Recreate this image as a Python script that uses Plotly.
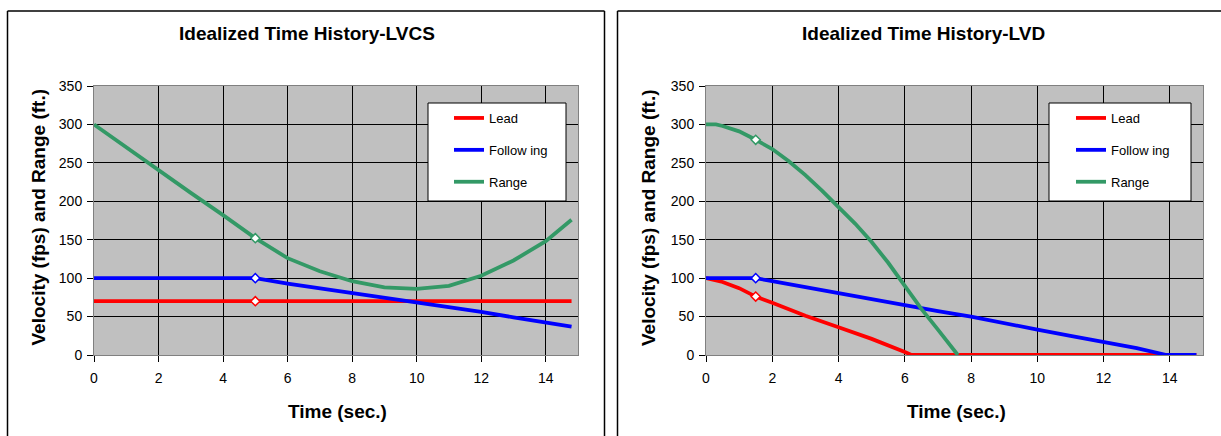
import plotly.graph_objects as go

W, H = 1221, 436

# ---------------- data ----------------
# Left chart: Idealized Time History-LVCS
t_lead_L = [0, 14.8]
lead_L = [70, 70]
t_follow_L = [0, 5, 6, 7, 8, 9, 10, 11, 12, 13, 14, 14.8]
follow_L = [100, 100, 93, 87, 81, 74, 68, 62, 56, 49, 43, 37]
t_range_L = [0, 1, 2, 3, 4, 5, 6, 7, 8, 9, 10, 11, 12, 13, 14, 14.8]
range_L = [300, 270, 241, 211, 182, 152, 126, 109, 96, 88, 86, 90, 103, 123, 148, 176]
t_mark_L = 5
mark_L = [70, 100, 152]

# Right chart: Idealized Time History-LVD
t_lead_R = [0, 0.5, 1, 1.5, 2, 3, 4, 5, 6, 6.2, 14.8]
lead_R = [100, 95, 87, 76, 68, 51, 36, 21, 4, 0, 0]
t_follow_R = [0, 1.5, 2, 3, 4, 5, 6, 7, 8, 9, 10, 11, 12, 13, 13.9, 14.8]
follow_R = [100, 100, 96, 88, 80, 72, 64, 57, 50, 41, 33, 25, 17, 9, 0, 0]
t_range_R = [0, 0.3, 0.5, 1, 1.5, 2, 2.5, 3, 3.5, 4, 4.5, 5, 5.5, 6, 6.5, 7, 7.5, 7.6]
range_R = [300, 300, 298, 291, 280, 268, 252, 234, 214, 193, 171, 147, 120, 90, 60, 33, 7, 0]
t_mark_R = 1.5
mark_R = [76, 100, 280]

series_names = ["Lead", "Follow ing", "Range"]
colors = ["#FF0000", "#0000FF", "#339966"]
titles = ["Idealized Time History-LVCS", "Idealized Time History-LVD"]
y_title = "Velocity (fps) and Range (ft.)"
x_title = "Time (sec.)"
x_ticks = [0, 2, 4, 6, 8, 10, 12, 14]

FONT = "Arial, Liberation Sans, sans-serif"


def px(x):
    return x / W


def py(y):
    return 1 - y / H


fig = go.Figure()

panels = [
    dict(xa="x", ya="y", leg="legend",
         data=[(t_lead_L, lead_L), (t_follow_L, follow_L), (t_range_L, range_L)],
         mt=t_mark_L, mv=mark_L),
    dict(xa="x2", ya="y2", leg="legend2",
         data=[(t_lead_R, lead_R), (t_follow_R, follow_R), (t_range_R, range_R)],
         mt=t_mark_R, mv=mark_R),
]

for pi, p in enumerate(panels):
    for si, (tx, vy) in enumerate(p["data"]):
        fig.add_trace(go.Scatter(
            x=tx, y=vy, mode="lines", name=series_names[si],
            line=dict(color=colors[si], width=3.8),
            xaxis=p["xa"], yaxis=p["ya"], legend=p["leg"],
            legendgroup=f"g{pi}{si}", hoverinfo="skip"))
    for si, v in enumerate(p["mv"]):
        fig.add_trace(go.Scatter(
            x=[p["mt"]], y=[v], mode="markers", showlegend=False,
            marker=dict(symbol="diamond", size=7, color="white",
                        line=dict(color=colors[si], width=1.5)),
            xaxis=p["xa"], yaxis=p["ya"], hoverinfo="skip"))

plot_top, plot_bot = 86, 355
doms = [(94, 578), (706, 1203)]

axis_common = dict(
    showgrid=True, gridcolor="#000000", gridwidth=1,
    showline=True, linecolor="#808080", linewidth=1, mirror=True,
    ticks="outside", ticklen=6, tickcolor="#000000", tickwidth=1,
    zeroline=False, tickfont=dict(family=FONT, size=14, color="#000000"),
    fixedrange=True, automargin=False,
)

for i, (x0, x1) in enumerate(doms):
    sx = "" if i == 0 else "2"
    fig.update_layout(**{
        f"xaxis{sx}": dict(axis_common, domain=[px(x0), px(x1)], range=[0, 15],
                           tickmode="array", tickvals=x_ticks,
                           anchor=f"y{sx}", ticklabelstandoff=4),
        f"yaxis{sx}": dict(axis_common, domain=[py(plot_bot), py(plot_top)],
                           range=[0, 350], dtick=50, anchor=f"x{sx}",
                           ticklabelstandoff=2),
    })

# titles and axis titles
ann = []
title_x = [306.5, 923.5]
ytitle_x = [37.5, 648]
for i in range(2):
    ann.append(dict(text=f"<b>{titles[i]}</b>", x=px(title_x[i]), y=py(33.5),
                    xref="paper", yref="paper", showarrow=False,
                    xanchor="center", yanchor="middle",
                    font=dict(family=FONT, size=19, color="#000000")))
    ann.append(dict(text=f"<b>{y_title}</b>", x=px(ytitle_x[i]), y=py(217),
                    xref="paper", yref="paper", showarrow=False, textangle=-90,
                    xanchor="center", yanchor="middle",
                    font=dict(family=FONT, size=19, color="#000000")))
    cx = (doms[i][0] + doms[i][1]) / 2
    ann.append(dict(text=f"<b>{x_title}</b>", x=px(cx + 1.5), y=py(411),
                    xref="paper", yref="paper", showarrow=False,
                    xanchor="center", yanchor="middle",
                    font=dict(family=FONT, size=19, color="#000000")))

shapes = []
# document boxes around each chart
bl = dict(color="#000000", width=1.5)
top = 11
shapes += [
    dict(type="line", xref="paper", yref="paper", x0=px(7.5), x1=px(7.5), y0=py(top), y1=0, line=bl),
    dict(type="line", xref="paper", yref="paper", x0=px(7.5), x1=px(604.5), y0=py(top), y1=py(top), line=bl),
    dict(type="line", xref="paper", yref="paper", x0=px(604.5), x1=px(604.5), y0=py(top), y1=0, line=bl),
    dict(type="line", xref="paper", yref="paper", x0=px(617.5), x1=px(617.5), y0=py(top), y1=0, line=bl),
    dict(type="line", xref="paper", yref="paper", x0=px(617.5), x1=1, y0=py(top), y1=py(top), line=bl),
]
# legend boxes
leg_boxes = [(428, 566), (1049, 1191)]
for (a, b) in leg_boxes:
    shapes.append(dict(type="rect", xref="paper", yref="paper", layer="above",
                       x0=px(a), x1=px(b), y0=py(201), y1=py(103),
                       fillcolor="#FFFFFF", line=dict(color="#000000", width=1)))

leg_common = dict(xanchor="left", yanchor="top", bgcolor="rgba(0,0,0,0)",
                  borderwidth=0, font=dict(family=FONT, size=13, color="#000000"),
                  tracegroupgap=12, traceorder="grouped", itemwidth=30,
                  itemclick=False, itemdoubleclick=False)

fig.update_layout(
    template="none",
    width=W, height=H, autosize=False,
    margin=dict(l=0, r=0, t=0, b=0, pad=0, autoexpand=False),
    paper_bgcolor="#FFFFFF", plot_bgcolor="#C0C0C0",
    showlegend=True,
    legend=dict(leg_common, x=px(449), y=py(103)),
    legend2=dict(leg_common, x=px(1071), y=py(103)),
    annotations=ann, shapes=shapes,
    font=dict(family=FONT, color="#000000"),
)

fig.write_html("out.html", config={"displayModeBar": False})
